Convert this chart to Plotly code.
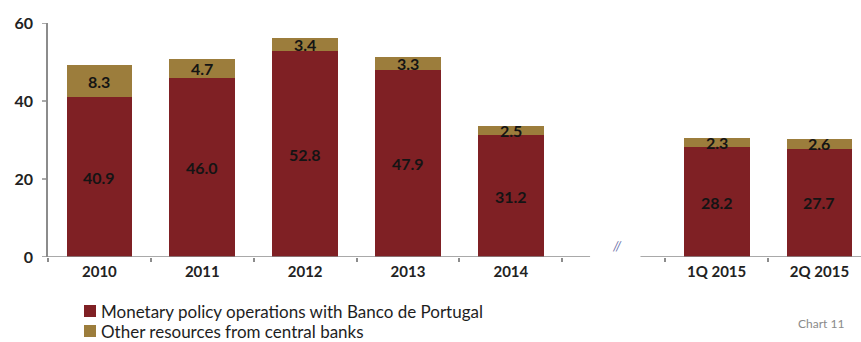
import plotly.graph_objects as go

# Funding from central banks, EUR billions
categories = ["2010", "2011", "2012", "2013", "2014", "1Q 2015", "2Q 2015"]
monetary_policy = [40.9, 46.0, 52.8, 47.9, 31.2, 28.2, 27.7]
other_resources = [8.3, 4.7, 3.4, 3.3, 2.5, 2.3, 2.6]
series_names = ["Monetary policy operations with Banco de Portugal",
                "Other resources from central banks"]
gap_label = " "
axis_order = categories[:5] + [gap_label] + categories[5:]
y_ticks = [0, 20, 40, 60]

RED = "#7f2024"
GOLD = "#9c7d3c"
AXIS = "#8c8c8c"
FONT = "Lato, 'Open Sans', sans-serif"

W, H = 861, 342
ML, MR, MT, MB = 48, 0, 23, 85
PW, PH = W - ML - MR, H - MT - MB


def px_x(px):
    return (px - ML) / PW


def px_y(py):
    return (H - MB - py) / PH


fig = go.Figure()
for name, vals, col in [(series_names[0], monetary_policy, RED),
                        (series_names[1], other_resources, GOLD)]:
    fig.add_trace(go.Bar(
        x=categories, y=vals, name=name,
        marker=dict(color=col, line=dict(width=0)), width=0.64, showlegend=False,
    ))

label_font = dict(family=FONT, size=16, color="#141414", weight="bold")
annotations = []
for c, m, o in zip(categories, monetary_policy, other_resources):
    xi = axis_order.index(c)
    annotations.append(dict(x=xi, y=m / 2, text=f"{m:.1f}", showarrow=False, font=label_font))
    annotations.append(dict(x=xi, y=m + o / 2, text=f"{o:.1f}", showarrow=False, font=label_font))

# axis break marker
annotations.append(dict(x=5.03, y=0, yshift=11, text="<i>//</i>", showarrow=False,
                        font=dict(family=FONT, size=13, color="#6b6fa8")))
annotations.append(dict(xref="paper", yref="paper", x=px_x(846), y=px_y(323),
                        xanchor="right", yanchor="middle", text="Chart 11",
                        showarrow=False, font=dict(family=FONT, size=12, color="#8a8a8a")))

shapes = [
    # x axis baseline, drawn in two pieces around the break
    dict(type="line", xref="x", yref="y", x0=-0.5, x1=4.77, y0=0, y1=0,
         line=dict(color=AXIS, width=1.5)),
    dict(type="line", xref="x", yref="y", x0=5.26, x1=7.5, y0=0, y1=0,
         line=dict(color=AXIS, width=1.5)),
]
# y tick marks
for v in y_ticks:
    shapes.append(dict(type="line", xref="paper", yref="y", x0=px_x(ML - 6), x1=0, y0=v, y1=v,
                       line=dict(color=AXIS, width=1.5)))

# legend rows: colour key and label
for i, (name, col) in enumerate(zip(series_names, [RED, GOLD])):
    cy = 311 + 20 * i
    shapes.append(dict(type="rect", xref="paper", yref="paper",
                       x0=px_x(84), x1=px_x(96), y0=px_y(cy + 6), y1=px_y(cy - 6),
                       fillcolor=col, line=dict(width=0)))
    annotations.append(dict(xref="paper", yref="paper", x=px_x(99), y=px_y(cy),
                            xanchor="left", yanchor="middle", text=name, showarrow=False,
                            font=dict(family=FONT, size=17, color="#1e1e1e")))

fig.update_layout(
    barmode="stack",
    width=W, height=H,
    margin=dict(l=ML, r=MR, t=MT, b=MB),
    paper_bgcolor="white", plot_bgcolor="white",
    font=dict(family=FONT, color="#222222"),
    annotations=annotations,
    shapes=shapes,
    showlegend=False,
    xaxis=dict(type="category", categoryorder="array", categoryarray=axis_order,
               range=[-0.5, 7.404], tickson="boundaries", ticks="outside", ticklen=4,
               tickcolor=AXIS, tickwidth=1.5, showline=False, showgrid=False, zeroline=False,
               ticklabelstandoff=4,
               tickfont=dict(family=FONT, size=15, color="#222222", weight="bold")),
    yaxis=dict(range=[0, 60], tickvals=y_ticks, ticks="", showline=True,
               linecolor=AXIS, linewidth=1.5, showgrid=False, zeroline=False,
               ticklabelstandoff=10,
               tickfont=dict(family=FONT, size=16, color="#222222", weight="bold")),
)

fig.write_html("out.html")
